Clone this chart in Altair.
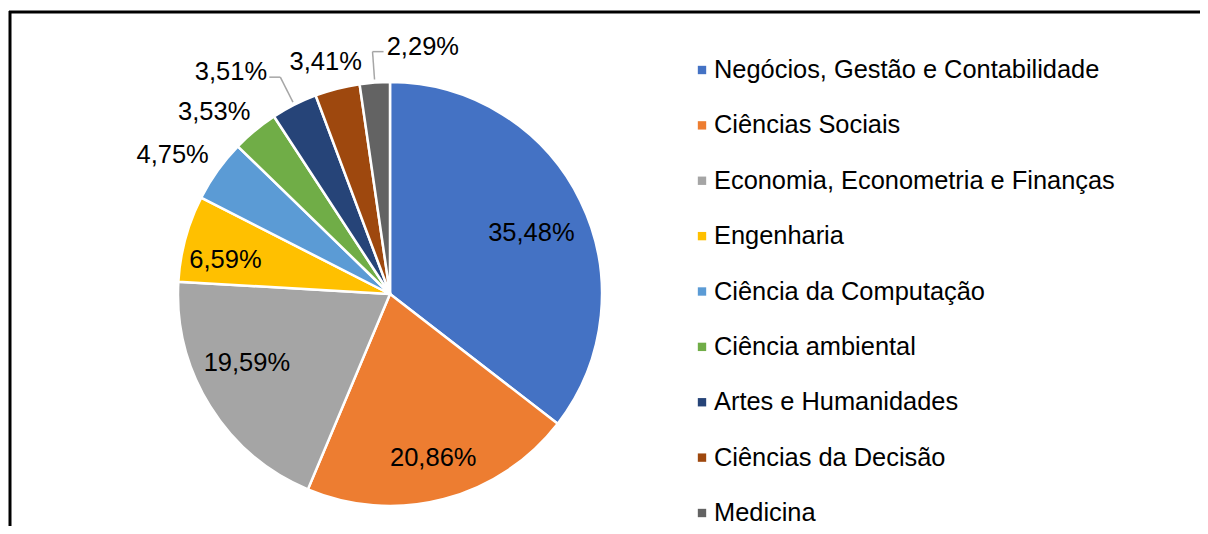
import math
import altair as alt
import pandas as pd

# ---- data ----
categories = [
    "Negócios, Gestão e Contabilidade",
    "Ciências Sociais",
    "Economia, Econometria e Finanças",
    "Engenharia",
    "Ciência da Computação",
    "Ciência ambiental",
    "Artes e Humanidades",
    "Ciências da Decisão",
    "Medicina",
]
values = [35.48, 20.86, 19.59, 6.59, 4.75, 3.53, 3.51, 3.41, 2.29]
colors = ["#4472C4", "#ED7D31", "#A5A5A5", "#FFC000", "#5B9BD5",
          "#70AD47", "#264478", "#9E480E", "#636363"]

# ---- layout (label placement, Excel "best fit" style) ----
label_radius = [154, 170, 159, 168, 258, 253, 273, 241, 249]
label_shift_deg = [2.8, 0.0, 6.1, -3.5, -3.0, -4.5, -8.8, -1.1, 11.7]
leader_dir = [0, 0, 0, 0, 0, 0, -1, 0, 1]   # -1 leader to the left, 1 to the right

W, H = 1192, 518
CX, CY, R = 382, 286, 212
FONT = "Liberation Sans"
TOTAL = sum(values)

df = pd.DataFrame({
    "cat": categories,
    "value": values,
    "idx": list(range(len(values))),
    "label": [f"{v:.2f}".replace(".", ",") + "%" for v in values],
    "lr": label_radius,
    "dang": label_shift_deg,
    "lead": leader_dir,
})

color = alt.Color("cat:N", scale=alt.Scale(domain=categories, range=colors), legend=None)
base = alt.Chart(df)

pie = base.mark_arc(radius=R, stroke="white", strokeWidth=2.5).encode(
    theta=alt.Theta("value:Q", stack=True),
    color=color,
    order=alt.Order("idx:Q"),
    x=alt.value(CX),
    y=alt.value(CY),
)

polar = base.transform_window(
    cum="sum(value)", sort=[alt.SortField("idx")], frame=[None, 0]
).transform_calculate(
    mid=f"2*PI*(datum.cum - datum.value/2)/{TOTAL}",
).transform_calculate(
    lt="datum.mid + datum.dang*PI/180",
    ax=f"{CX} + {R + 3}*sin(datum.mid)",
    ay=f"{CY} - {R + 3}*cos(datum.mid)",
    bx=f"{CX} + {R + 31}*sin(datum.mid)",
    by=f"{CY} - {R + 31}*cos(datum.mid)",
).transform_calculate(
    cx2="datum.bx + 11*datum.lead",
)

labels = polar.mark_text(font=FONT, fontSize=25.5, color="#000000",
                         align="center", baseline="middle").encode(
    theta=alt.Theta("lt:Q", scale=None, stack=False),
    radius=alt.Radius("lr:Q", scale=None),
    text="label:N",
    x=alt.value(CX),
    y=alt.value(CY),
)

leaders = polar.transform_filter("datum.lead != 0")
lead1 = leaders.mark_rule(color="#A6A6A6", strokeWidth=1.5).encode(
    x=alt.X("ax:Q", scale=None, axis=None),
    y=alt.Y("ay:Q", scale=None, axis=None),
    x2="bx:Q",
    y2="by:Q",
)
lead2 = leaders.mark_rule(color="#A6A6A6", strokeWidth=1.5).encode(
    x=alt.X("bx:Q", scale=None, axis=None),
    y=alt.Y("by:Q", scale=None, axis=None),
    x2="cx2:Q",
    y2="by:Q",
)

ypos = alt.Y("cat:N", sort=categories, axis=None,
             scale=alt.Scale(domain=categories, range=[62, 505], padding=0))
leg_sq = base.mark_square(size=70, opacity=1).encode(
    x=alt.value(694), y=ypos, color=color,
)
leg_txt = base.mark_text(font=FONT, fontSize=25.4, color="#000000",
                         align="left", baseline="middle").encode(
    x=alt.value(706), y=ypos, text="cat:N",
)

one = pd.DataFrame({"k": [0]})
frame_top = alt.Chart(one).mark_rule(color="#000000", strokeWidth=3).encode(
    x=alt.value(1), x2=alt.value(W + 20), y=alt.value(4),
)
frame_left = alt.Chart(one).mark_rule(color="#000000", strokeWidth=3).encode(
    x=alt.value(2), y=alt.value(3), y2=alt.value(H + 20),
)

chart = alt.layer(
    pie, labels, lead1, lead2, leg_sq, leg_txt, frame_top, frame_left
).resolve_scale(
    x="independent", y="independent"
).properties(
    width=W, height=H, padding=0, autosize=alt.AutoSizeParams(type="none"),
    background="white",
).configure_view(stroke=None)

chart.save("out.html", embed_options={"renderer": "svg", "actions": False})
